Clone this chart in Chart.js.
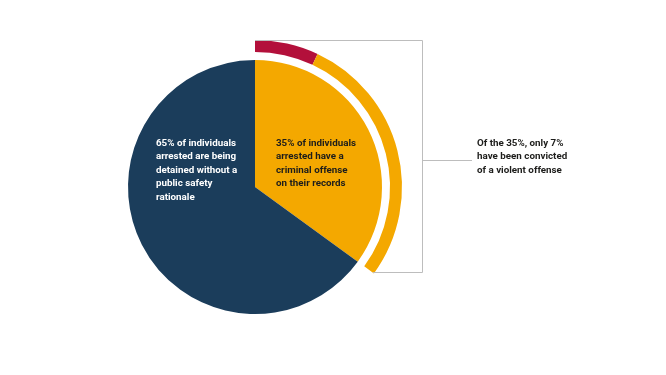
<!DOCTYPE html>
<html>
<head>
<meta charset="utf-8">
<script src="https://cdn.jsdelivr.net/npm/chart.js@4"></script>
<style>
  html, body { margin: 0; padding: 0; background: #fff; }
  #wrap { position: relative; width: 666px; height: 375px; overflow: hidden; }
  #pieChart { position: absolute; left: 0; top: 0; }
  .note { position: absolute; font-family: Roboto, 'Noto Sans', sans-serif; font-weight: 700;
          font-size: 9.8px; line-height: 13.4px; }
</style>
</head>
<body>
<div id="wrap">
  <canvas id="pieChart" width="666" height="375"></canvas>
  <div class="note" style="left:156px; top:136px; color:#ffffff;">65% of individuals<br>arrested are being<br>detained without a<br>public safety<br>rationale</div>
  <div class="note" style="left:276px; top:136px; color:#1d1d1b;">35% of individuals<br>arrested have a<br>criminal offense<br>on their records</div>
  <div class="note" style="left:477px; top:136px; color:#1d1d1b;">Of the 35%, only 7%<br>have been convicted<br>of a violent offense</div>
</div>
<script>
// data
const pieLabels = ['Criminal offense on record', 'No public safety rationale'];
const pieValues = [35, 65];
const ringLabels = ['Violent offense', 'Other offense', ''];
const ringValues = [7, 28, 65];

const navy = '#1b3d5b';
const orange = '#f4a800';
const red = '#b3103b';

// bracket lines to the right of the ring
const bracketPlugin = {
    id: 'bracket',
    afterDraw(chart) {
        const arc = chart.getDatasetMeta(0).data[1];
        if (!arc) return;
        const { x, y, outerRadius } = arc.getProps(['x', 'y', 'outerRadius'], true);
        const ctx = chart.ctx;
        const top = y - outerRadius;
        const right = 422.5;
        const bottom = 272.5;
        ctx.save();
        ctx.strokeStyle = '#bdbdbd';
        ctx.lineWidth = 1;
        ctx.beginPath();
        ctx.moveTo(x, top + 0.5);
        ctx.lineTo(right, top + 0.5);
        ctx.lineTo(right, bottom);
        ctx.lineTo(373, bottom);
        ctx.moveTo(right, 160.5);
        ctx.lineTo(472, 160.5);
        ctx.stroke();
        ctx.restore();
    }
};

new Chart(document.getElementById('pieChart'), {
    type: 'doughnut',
    data: {
        labels: pieLabels,
        datasets: [
            {
                label: 'Ring',
                data: ringValues,
                backgroundColor: [red, orange, 'rgba(0,0,0,0)'],
                borderWidth: 0,
                weight: 12
            },
            {
                label: 'Gap',
                data: [100],
                backgroundColor: ['rgba(0,0,0,0)'],
                borderWidth: 0,
                weight: 8
            },
            {
                label: 'Pie',
                data: pieValues,
                backgroundColor: [orange, navy],
                borderWidth: 0,
                weight: 127
            }
        ]
    },
    options: {
        responsive: false,
        animation: false,
        events: [],
        cutout: 0,
        layout: { padding: { left: 108, top: 40, right: 264, bottom: 41 } },
        plugins: {
            legend: { display: false },
            tooltip: { enabled: false }
        }
    },
    plugins: [bracketPlugin]
});
</script>
</body>
</html>
